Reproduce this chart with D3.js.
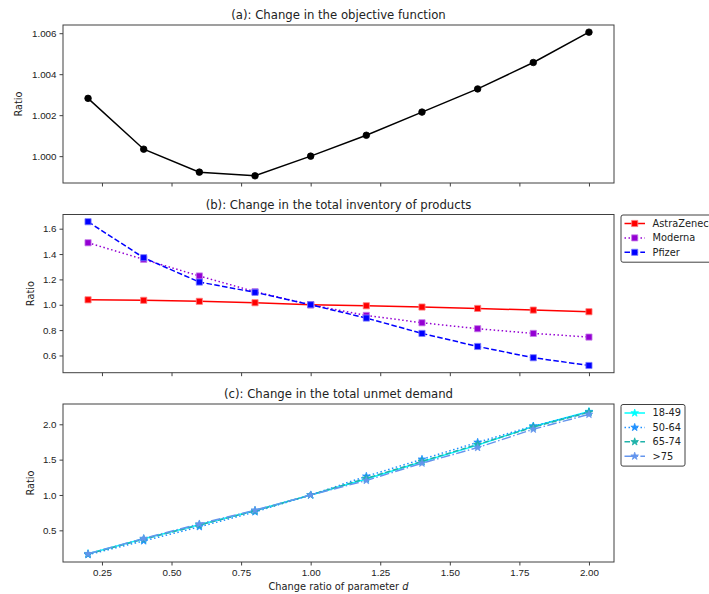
<!DOCTYPE html>
<html lang="en">
<head>
    <meta charset="UTF-8">
    <title>Sensitivity to parameter d</title>
    <script src="https://d3js.org/d3.v7.min.js"></script>
    <style>
        body { margin: 0; background: white; }
        svg { font-family: "DejaVu Sans", sans-serif; }
    </style>
</head>
<body>
    <div id="chart"></div>
    <script>
        // x values shared by all three panels
        const ratios = [0.2, 0.4, 0.6, 0.8, 1.0, 1.2, 1.4, 1.6, 1.8, 2.0];
        const xTicks = [0.25, 0.50, 0.75, 1.00, 1.25, 1.50, 1.75, 2.00];

        // (a) objective function
        const objective = [1.00282, 1.00034, 0.99922, 0.99904, 1.0000, 1.00102, 1.00215, 1.00328, 1.00457, 1.00605];
        const objTicks = [1.000, 1.002, 1.004, 1.006];

        // (b) inventory of products
        const products = ["AstraZeneca", "Moderna", "Pfizer"];
        const astra = [1.039, 1.035, 1.027, 1.016, 1.0, 0.992, 0.982, 0.971, 0.958, 0.945];
        const moderna = [1.489, 1.358, 1.227, 1.103, 1.0, 0.916, 0.858, 0.811, 0.774, 0.745];
        const pfizer = [1.655, 1.371, 1.179, 1.098, 1.0, 0.895, 0.774, 0.671, 0.582, 0.521];
        const invTicks = [0.6, 0.8, 1.0, 1.2, 1.4, 1.6];

        // (c) unmet demand by age group
        const groups = ["18-49", "50-64", "65-74", ">75"];
        const g1849 = [0.170, 0.380, 0.580, 0.780, 1.0, 1.225, 1.470, 1.705, 1.970, 2.180];
        const g5064 = [0.155, 0.350, 0.550, 0.760, 1.0, 1.265, 1.505, 1.745, 1.975, 2.175];
        const g6574 = [0.165, 0.375, 0.575, 0.775, 1.0, 1.235, 1.475, 1.715, 1.960, 2.170];
        const g75 = [0.168, 0.385, 0.590, 0.785, 1.0, 1.205, 1.450, 1.670, 1.930, 2.140];
        const demTicks = [0.5, 1.0, 1.5, 2.0];

        const W = 709, H = 594;
        const left = 63, right = 614;

        const svg = d3.select("#chart").append("svg")
            .attr("width", W)
            .attr("height", H);

        const x = d3.scaleLinear().domain([0.11, 2.09]).range([left, right]);

        const dashes = {solid: null, dotted: "1.5,2.5", dashed: "5.5,2.4", dashdot: "9.6,2.4,1.5,2.4"};

        function panel(opts) {
            const y = d3.scaleLinear().domain(opts.yDomain).range([opts.bottom, opts.top]);
            const g = svg.append("g");

            // series
            opts.series.forEach(s => {
                const pts = ratios.map((r, i) => [r, s.values[i]]);
                g.append("path")
                    .datum(pts)
                    .attr("fill", "none")
                    .attr("stroke", s.color)
                    .attr("stroke-width", 1.5)
                    .attr("stroke-dasharray", dashes[s.style])
                    .attr("d", d3.line().x(d => x(d[0])).y(d => y(d[1])));
                g.selectAll(null)
                    .data(pts)
                    .join("path")
                    .attr("transform", d => `translate(${x(d[0])},${y(d[1])})`)
                    .attr("d", d3.symbol().type(s.symbol).size(s.size))
                    .attr("fill", s.color)
                    .attr("stroke", s.edge || s.color)
                    .attr("stroke-width", 0.8);
            });

            // frame
            g.append("rect")
                .attr("x", left).attr("y", opts.top)
                .attr("width", right - left).attr("height", opts.bottom - opts.top)
                .attr("fill", "none").attr("stroke", "#404040").attr("stroke-width", 1);

            // x axis
            const xa = g.append("g")
                .attr("transform", `translate(0,${opts.bottom})`)
                .call(d3.axisBottom(x).tickValues(xTicks).tickSizeOuter(0).tickSize(3.5)
                    .tickFormat(opts.xLabels ? d3.format(".2f") : ""));
            xa.select(".domain").remove();
            xa.selectAll("line").attr("stroke", "#404040");
            xa.selectAll("text").attr("font-size", "9.8px").attr("fill", "#222").attr("dy", "0.8em");

            // y axis
            const ya = g.append("g")
                .attr("transform", `translate(${left},0)`)
                .call(d3.axisLeft(y).tickValues(opts.yTicks).tickSizeOuter(0).tickSize(3.5)
                    .tickFormat(d3.format(opts.yFormat)));
            ya.select(".domain").remove();
            ya.selectAll("line").attr("stroke", "#404040");
            ya.selectAll("text").attr("font-size", "9.8px").attr("fill", "#222");

            // title
            g.append("text")
                .attr("x", (left + right) / 2)
                .attr("y", opts.top - 6)
                .attr("text-anchor", "middle")
                .attr("font-size", "11.7px")
                .attr("fill", "#222")
                .text(opts.title);

            // y label
            g.append("text")
                .attr("transform", `translate(${opts.ylabelX},${(opts.top + opts.bottom) / 2}) rotate(-90)`)
                .attr("text-anchor", "middle")
                .attr("font-size", "9.8px")
                .attr("fill", "#222")
                .text("Ratio");

            // legend (it runs past the right edge, as in the original figure)
            if (opts.legend) {
                const n = opts.series.length;
                const lg = g.append("g");
                lg.append("rect")
                    .attr("x", 621).attr("y", opts.top + 0.5)
                    .attr("width", opts.legendWidth).attr("height", 14.4 * n + 4)
                    .attr("rx", 2)
                    .attr("fill", "white").attr("stroke", "#404040").attr("stroke-width", 1);
                opts.series.forEach((s, i) => {
                    const ly = opts.top + 9 + i * 14.4;
                    lg.append("line")
                        .attr("x1", 624.5).attr("x2", 645)
                        .attr("y1", ly).attr("y2", ly)
                        .attr("stroke", s.color).attr("stroke-width", 1.5)
                        .attr("stroke-dasharray", dashes[s.style]);
                    lg.append("path")
                        .attr("transform", `translate(634.7,${ly})`)
                        .attr("d", d3.symbol().type(s.symbol).size(s.size))
                        .attr("fill", s.color)
                        .attr("stroke", s.edge || s.color)
                        .attr("stroke-width", 0.8);
                    lg.append("text")
                        .attr("x", 652.5).attr("y", ly)
                        .attr("dy", "0.35em")
                        .attr("font-size", "9.8px")
                        .attr("fill", "#222")
                        .text(s.name);
                });
            }
            return y;
        }

        panel({
            top: 25, bottom: 183,
            yDomain: [0.99869, 1.0064],
            yTicks: objTicks, yFormat: ".3f",
            title: "(a): Change in the objective function",
            ylabelX: 22,
            series: [{values: objective, color: "black", style: "solid", symbol: d3.symbolCircle, size: 34}]
        });

        panel({
            top: 214.5, bottom: 372.7,
            yDomain: [0.464, 1.712],
            yTicks: invTicks, yFormat: ".1f",
            title: "(b): Change in the total inventory of products",
            ylabelX: 34,
            legend: true, legendWidth: 100,
            series: [
                {name: products[0], values: astra, color: "red", style: "solid", symbol: d3.symbolSquare, size: 38, edge: "#ff8080"},
                {name: products[1], values: moderna, color: "darkviolet", style: "dotted", symbol: d3.symbolSquare, size: 38, edge: "#c880ea"},
                {name: products[2], values: pfizer, color: "blue", style: "dashed", symbol: d3.symbolSquare, size: 38, edge: "#8080ff"}
            ]
        });

        panel({
            top: 404, bottom: 562,
            yDomain: [0.052, 2.287],
            yTicks: demTicks, yFormat: ".1f",
            title: "(c): Change in the total unmet demand",
            ylabelX: 34,
            xLabels: true,
            legend: true, legendWidth: 64,
            series: [
                {name: groups[0], values: g1849, color: "cyan", style: "solid", symbol: d3.symbolStar, size: 18},
                {name: groups[1], values: g5064, color: "dodgerblue", style: "dotted", symbol: d3.symbolStar, size: 18},
                {name: groups[2], values: g6574, color: "lightseagreen", style: "dashed", symbol: d3.symbolStar, size: 18},
                {name: groups[3], values: g75, color: "cornflowerblue", style: "dashdot", symbol: d3.symbolStar, size: 18}
            ]
        });

        // shared x label
        const xl = svg.append("text")
            .attr("x", (left + right) / 2)
            .attr("y", 590)
            .attr("text-anchor", "middle")
            .attr("font-size", "9.8px")
            .attr("fill", "#222");
        xl.append("tspan").text("Change ratio of parameter ");
        xl.append("tspan").attr("font-style", "italic").text("d");
    </script>
</body>
</html>
